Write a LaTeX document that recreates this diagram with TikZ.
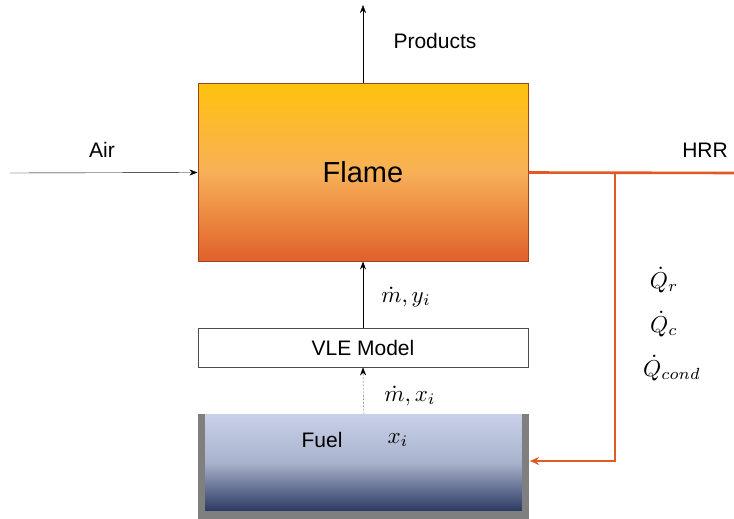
\documentclass[tikz,border=0pt]{standalone}
\usepackage{amsmath}
\usepackage{graphicx}
\usepackage{fontspec}
\setmainfont{Liberation Sans}
\usepackage{tikz}
\usetikzlibrary{arrows.meta}

\definecolor{flametop}{HTML}{FFC20E}
\definecolor{flamemid}{HTML}{F7B058}
\definecolor{flamebot}{HTML}{E0602A}
\definecolor{heat}{HTML}{E05A24}
\definecolor{fueltop}{HTML}{C9D1E9}
\definecolor{fuelmid}{HTML}{A9B2CC}
\definecolor{fuelbot}{HTML}{2B3A63}
\definecolor{wall}{HTML}{7F7F7F}

\newcommand{\bigmath}[1]{\scalebox{2.3}{\normalsize$#1$}}

\tikzset{
    flow/.style={draw=black, ->},
    heatline/.style={draw=heat, line width=2.6pt},
    label/.style={inner sep=0pt}
}

\begin{document}
\begin{tikzpicture}[x=1pt,y=-1pt, font=\fontsize{21}{25}\selectfont, >={Stealth[length=8pt,width=6pt]}]
    \useasboundingbox (0,0) rectangle (734,519);
    % flame and model
    \node[draw=flamebot!70!black, line width=1pt, top color=flametop, bottom color=flamebot, middle color=flamemid, minimum width=330pt, minimum height=177pt, inner sep=0pt, font=\fontsize{29}{34}\selectfont] (flame) at (363,172.5) {Flame};
    \node[draw=black!70, line width=0.8pt, fill=white, minimum width=330pt, minimum height=39pt, inner sep=0pt] (vle) at (363,347.5) {VLE Model};
    % fuel pool
    \node[top color=fueltop, bottom color=fuelbot, middle color=fuelmid, minimum width=317pt, minimum height=97pt, inner sep=0pt] (tank) at (363.5,462.5) {};
    \fill[wall] (198,414) rectangle (205,519);
    \fill[wall] (522,414) rectangle (529,519);
    \fill[wall] (198,511) rectangle (529,519);
    \node[label] (fuel) at (322,440) {Fuel};
    \node[label] (xi) at (398,440) {\bigmath{x_i}};
    % free ends
    \coordinate (airin) at (10,173);
    \coordinate (prodout) at (363,5);
    \coordinate (hrrend) at (734,173);
    \coordinate (branch) at (615,173);
    \coordinate (corner) at (615,461);
    \coordinate (tankin) at (530,461);
    % connectors
    \draw[flow] (airin) -- (flame.west);
    \draw[flow] (flame.north) -- (prodout);
    \draw[flow, line width=0.8pt] (vle.north) -- (flame.south);
    \draw[flow, densely dotted] (tank.north) -- (vle.south);
    \draw[heatline] (flame.east) -- (hrrend);
    \draw[heatline, -{Stealth[length=9pt,width=8pt]}] (branch) -- (corner) -- (tankin);
    % labels
    \node[label] (airlab) at (102,150) {Air};
    \node[label] (prodlab) at (435,41) {Products};
    \node[label] (hrrlab) at (705,150) {HRR};
    \node[label] (mylab) at (406,297) {\bigmath{\dot{m}, y_i}};
    \node[label] (mxlab) at (410,396) {\bigmath{\dot{m}, x_i}};
    \node[label] (qrlab) at (664,280) {\bigmath{\dot{Q}_r}};
    \node[label] (qclab) at (664,324) {\bigmath{\dot{Q}_c}};
    \node[label] (qcondlab) at (672,368) {\bigmath{\dot{Q}_{cond}}};
\end{tikzpicture}
\end{document}
